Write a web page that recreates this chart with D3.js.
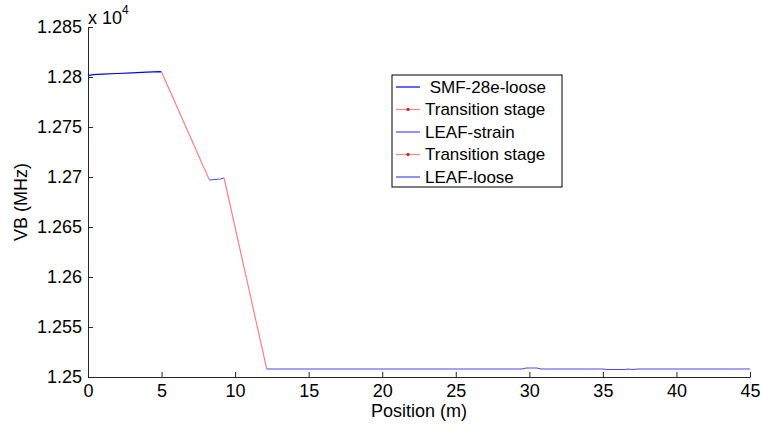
<!DOCTYPE html>
<html>
<head>
<meta charset="utf-8">
<script src="https://cdn.jsdelivr.net/npm/d3@7"></script>
<style>
  body { margin: 0; background: #fff; }
  svg { font-family: Arial, "Liberation Sans", sans-serif; }
</style>
</head>
<body>
<div id="chart"></div>
<script>
// data (VB in MHz, position in m)
let smfX = [0, 0.35, 1, 2, 3, 4, 4.9, 5.0];
let smfY = [12801.3, 12802.3, 12802.8, 12803.5, 12804.2, 12804.8, 12805.3, 12805];

let trans1X = [5.0, 8.25];
let trans1Y = [12805, 12697];

let strainX = [8.25, 8.6, 9.0, 9.25];
let strainY = [12697, 12697.5, 12698, 12699];

let trans2X = [9.25, 12.15];
let trans2Y = [12699, 12508];

let looseX = [12.15, 15, 20, 25, 29.5, 29.8, 30.5, 30.8, 35, 35.3, 36.5, 36.7, 37, 37.4, 40, 45];
let looseY = [12508, 12508, 12508, 12508, 12508, 12509, 12509, 12508, 12508, 12507.5, 12507.5, 12508, 12507.5, 12508, 12508, 12508];

let xTicks = [0, 5, 10, 15, 20, 25, 30, 35, 40, 45];
let yTicks = [12500, 12550, 12600, 12650, 12700, 12750, 12800, 12850];

let seriesNames = [" SMF-28e-loose", "Transition stage", "LEAF-strain", "Transition stage", "LEAF-loose"];
let seriesColors = ["#0000ff", "#ff8080", "#4a4aff", "#ff8080", "#4a4aff"];
let seriesMarkers = [false, true, false, true, false];

let width = 762, height = 427;
let margin = { top: 27, right: 12, bottom: 50, left: 88 };
let iw = width - margin.left - margin.right;
let ih = height - margin.top - margin.bottom;
let fs = "18px";

let svg = d3.select("#chart").append("svg")
    .attr("width", width)
    .attr("height", height);

let g = svg.append("g")
    .attr("transform", `translate(${margin.left},${margin.top})`);

let x = d3.scaleLinear().domain([0, 45]).range([0, iw]);
let y = d3.scaleLinear().domain([12500, 12850]).range([ih, 0]);

// axes (ticks point inward)
let xAxis = g.append("g")
    .attr("transform", `translate(0,${ih})`)
    .call(d3.axisBottom(x).tickValues(xTicks).tickSizeInner(-5).tickSizeOuter(0).tickPadding(7));

let yAxis = g.append("g")
    .call(d3.axisLeft(y).tickValues(yTicks).tickSizeInner(-5).tickSizeOuter(0).tickPadding(6)
        .tickFormat(d => d3.format("")(+(d / 1e4).toFixed(4))));

[xAxis, yAxis].forEach(a => {
    a.select(".domain").attr("stroke", "#262626");
    a.selectAll(".tick line").attr("stroke", "#262626");
    a.selectAll("text").attr("font-size", fs).attr("fill", "#000").attr("font-family", null);
});

// exponent label
let expo = g.append("text")
    .attr("x", 0)
    .attr("y", -3)
    .attr("font-size", fs)
    .attr("fill", "#000");
expo.append("tspan").text("x 10");
expo.append("tspan").attr("dy", -10).attr("font-size", "12px").text("4");

// axis titles
g.append("text")
    .attr("x", iw / 2)
    .attr("y", ih + 40)
    .attr("text-anchor", "middle")
    .attr("font-size", fs)
    .text("Position (m)");

g.append("text")
    .attr("transform", "rotate(-90)")
    .attr("x", -ih / 2)
    .attr("y", -61)
    .attr("text-anchor", "middle")
    .attr("font-size", fs)
    .text("VB (MHz)");

// lines
let line = d3.line().x(d => x(d[0])).y(d => y(d[1]));
let series = [
    d3.zip(smfX, smfY),
    d3.zip(trans1X, trans1Y),
    d3.zip(strainX, strainY),
    d3.zip(trans2X, trans2Y),
    d3.zip(looseX, looseY)
];

series.forEach((s, i) => {
    g.append("path")
        .datum(s)
        .attr("fill", "none")
        .attr("stroke", seriesColors[i])
        .attr("stroke-width", 1.2)
        .attr("d", line);
});

// legend
let legend = svg.append("g").attr("transform", "translate(392,75)");
legend.append("rect")
    .attr("width", 170)
    .attr("height", 112)
    .attr("fill", "#fff")
    .attr("stroke", "#000");

seriesNames.forEach((name, i) => {
    let yy = 12 + i * 22.5;
    legend.append("line")
        .attr("x1", 4).attr("x2", 28)
        .attr("y1", yy).attr("y2", yy)
        .attr("stroke", seriesColors[i])
        .attr("stroke-width", 1.2);
    if (seriesMarkers[i]) {
        legend.append("circle")
            .attr("cx", 16).attr("cy", yy).attr("r", 1.4)
            .attr("fill", "#e00000");
    }
    legend.append("text")
        .attr("x", 33)
        .attr("y", yy)
        .attr("dy", "0.35em")
        .attr("font-size", "17px")
        .attr("xml:space", "preserve")
        .style("white-space", "pre")
        .text(name);
});
</script>
</body>
</html>
